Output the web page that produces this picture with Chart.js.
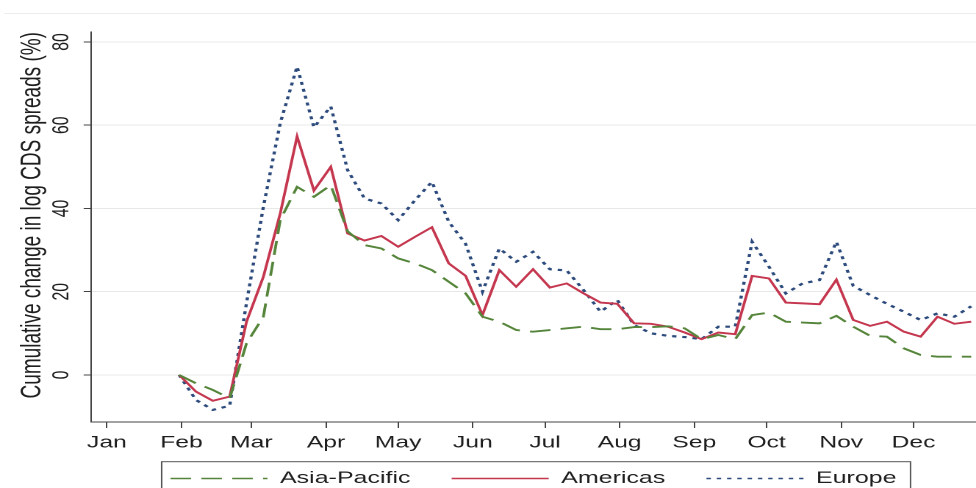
<!DOCTYPE html>
<html>
<head>
<meta charset="utf-8">
<script src="https://cdn.jsdelivr.net/npm/chart.js@4.4.1/dist/chart.umd.min.js"></script>
<style>
  html, body { margin: 0; padding: 0; background: #fff; overflow: hidden; width: 976px; height: 488px; }
  /* the graph is laid out narrow and widened horizontally, like the exported figure */
  #wrap { width: 664px; height: 507px; transform: scaleX(1.4699); transform-origin: 0 0; }
</style>
</head>
<body>
<div id="wrap"><canvas id="chart" width="664" height="507"></canvas></div>
<script>
// Weekly observations (Fridays, 2020)
const weekEnding = [
  '01-31', '02-07', '02-14', '02-21', '02-28', '03-06', '03-13', '03-20', '03-27', '04-03',
  '04-10', '04-17', '04-24', '05-01', '05-08', '05-15', '05-22', '05-29', '06-05', '06-12',
  '06-19', '06-26', '07-03', '07-10', '07-17', '07-24', '07-31', '08-07', '08-14', '08-21',
  '08-28', '09-04', '09-11', '09-18', '09-25', '10-02', '10-09', '10-16', '10-23', '10-30',
  '11-06', '11-13', '11-20', '11-27', '12-04', '12-11', '12-18', '12-25'
];

const monthLabels = ['Jan', 'Feb', 'Mar', 'Apr', 'May', 'Jun', 'Jul', 'Aug', 'Sep', 'Oct', 'Nov', 'Dec'];

// Cumulative change in log CDS spreads (%), by region
const asiaPacific = [
  0, -2.0, -3.6, -5.6, 7.6, 14.0, 37.2, 45.2, 42.8, 45.6,
  34.5, 31.2, 30.4, 28.0, 26.8, 25.2, 22.4, 19.6, 14.0, 12.8,
  10.8, 10.4, 10.8, 11.2, 11.6, 11.0, 11.0, 11.5, 11.5, 11.7,
  11.2, 8.6, 9.6, 8.6, 14.4, 15.0, 12.8, 12.6, 12.4, 14.2,
  11.6, 9.4, 9.2, 6.4, 4.8, 4.4, 4.4, 4.4
];
const americas = [
  0, -4.0, -6.2, -5.2, 12.8, 23.6, 38.8, 57.3, 44.3, 50.0,
  34.0, 32.3, 33.4, 30.8, 33.2, 35.5, 26.8, 23.8, 14.4, 25.2,
  21.2, 25.4, 21.0, 22.0, 19.6, 17.4, 17.1, 12.4, 12.3, 11.6,
  10.2, 8.6, 10.2, 9.8, 23.8, 23.2, 17.4, 17.2, 17.0, 22.9,
  13.2, 11.8, 12.8, 10.4, 9.2, 14.0, 12.3, 12.8
];
const europe = [
  0, -6.0, -8.4, -7.4, 17.3, 40.4, 60.5, 74.1, 59.5, 64.5,
  49.2, 42.4, 41.2, 37.2, 42.0, 46.4, 36.8, 31.5, 20.0, 30.4,
  27.2, 29.6, 25.4, 25.1, 20.4, 15.2, 18.0, 12.0, 10.0, 9.4,
  9.1, 8.6, 11.6, 11.6, 32.0, 26.0, 19.6, 22.0, 22.8, 32.0,
  21.4, 19.2, 17.1, 15.2, 13.2, 14.8, 14.0, 16.5
];

const yTickValues = [0, 20, 40, 60, 80];

// day-of-year helpers (2020 is a leap year)
const YEAR_START = Date.UTC(2020, 0, 1);
const DAY_MS = 86400000;
const dayOfYear = s => (Date.UTC(2020, +s.slice(0, 2) - 1, +s.slice(3, 5)) - YEAR_START) / DAY_MS;
const monthStarts = monthLabels.map((m, i) => (Date.UTC(2020, i, 1) - YEAR_START) / DAY_MS);
const days = weekEnding.map(dayOfYear);
const toPoints = vals => vals.map((v, i) => ({ x: days[i], y: v }));

const FONT = 'Liberation Sans, Arial, sans-serif';
const TEXT = '#1e1e1e';
const AXIS = '#444';

// pull the legend up close under the month labels
const legendPlacement = {
  id: 'legendPlacement',
  afterLayout(chart) {
    const lg = chart.legend;
    const h = lg.height;
    lg.top = chart.chartArea.bottom + 20;
    lg.bottom = lg.top + h;
  }
};

// frame around the legend keys, and the faint outer graph-region edge
const legendFrame = {
  id: 'legendFrame',
  afterDraw(chart) {
    const lg = chart.legend;
    const boxes = lg.legendHitBoxes;
    if (!boxes || !boxes.length) return;
    const first = boxes[0];
    const last = boxes[boxes.length - 1];
    const ctx = chart.ctx;
    ctx.save();
    ctx.strokeStyle = '#555';
    ctx.lineWidth = 1;
    const left = first.left - 6;
    const right = last.left + last.width + 9.5;
    const top = lg.top + 19.7;
    ctx.strokeRect(left, top, right - left, chart.height);
    ctx.strokeStyle = '#ececec';
    ctx.beginPath();
    ctx.moveTo(3, 13.5);
    ctx.lineTo(chart.width, 13.5);
    ctx.stroke();
    ctx.restore();
  }
};

const baseLabels = Chart.defaults.plugins.legend.labels.generateLabels;

new Chart(document.getElementById('chart'), {
  type: 'line',
  data: {
    datasets: [
      {
        label: 'Asia-Pacific',
        data: toPoints(asiaPacific),
        borderColor: '#55853a',
        backgroundColor: '#55853a',
        borderWidth: 1.9,
        borderDash: [14, 7],
        borderCapStyle: 'butt',
        pointRadius: 0,
        fill: false,
        tension: 0
      },
      {
        label: 'Americas',
        data: toPoints(americas),
        borderColor: '#c4374f',
        backgroundColor: '#c4374f',
        borderWidth: 1.9,
        pointRadius: 0,
        fill: false,
        tension: 0
      },
      {
        label: 'Europe',
        data: toPoints(europe),
        borderColor: '#2c4a7c',
        backgroundColor: '#2c4a7c',
        borderWidth: 2.2,
        borderDash: [3, 4],
        borderCapStyle: 'butt',
        pointRadius: 0,
        fill: false,
        tension: 0
      }
    ]
  },
  options: {
    responsive: false,
    devicePixelRatio: 2,
    animation: false,
    events: [],
    layout: { padding: { top: 32, bottom: 0, left: 0, right: 0 } },
    scales: {
      x: {
        type: 'linear',
        min: -6.6,
        max: 361,
        afterBuildTicks: s => { s.ticks = monthStarts.map(v => ({ value: v })); },
        afterFit: s => { s.height = 30; },
        ticks: {
          autoSkip: false,
          maxRotation: 0,
          padding: 5,
          color: TEXT,
          font: { family: FONT, size: 16.8 },
          callback: (value, index) => monthLabels[index]
        },
        grid: { drawOnChartArea: false, drawTicks: true, tickLength: 6, tickColor: AXIS, tickWidth: 1 },
        border: { display: true, color: AXIS, width: 1 }
      },
      y: {
        min: -11.3,
        max: 82.4,
        afterBuildTicks: s => { s.ticks = yTickValues.map(v => ({ value: v })); },
        afterFit: s => { s.width = 61.9; },
        ticks: {
          minRotation: 90,
          maxRotation: 90,
          crossAlign: 'center',
          padding: 5.8,
          color: TEXT,
          font: { family: FONT, size: 15.8 }
        },
        grid: { color: '#e8e8e8', lineWidth: 1, tickColor: AXIS, tickLength: 5, tickWidth: 1 },
        border: { color: AXIS, width: 1 },
        title: {
          display: true,
          text: 'Cumulative change in log CDS spreads (%)',
          align: 'end',
          padding: { top: 11, bottom: 0 },
          color: TEXT,
          font: { family: FONT, size: 19 }
        }
      }
    },
    plugins: {
      tooltip: { enabled: false },
      legend: {
        position: 'bottom',
        fullSize: false,
        labels: {
          usePointStyle: true,
          pointStyle: 'line',
          pointStyleWidth: 66,
          padding: 28,
          color: TEXT,
          font: { family: FONT, size: 17 },
          // legend keys: thinner strokes with the series' own dash pattern
          generateLabels: chart => baseLabels(chart).map(item => {
            const ds = chart.data.datasets[item.datasetIndex];
            item.lineDash = ds.borderDash ? ds.borderDash.slice() : [];
            item.lineCap = 'butt';
            item.lineWidth = 1.6;
            return item;
          })
        }
      }
    }
  },
  plugins: [legendPlacement, legendFrame]
});
</script>
</body>
</html>
